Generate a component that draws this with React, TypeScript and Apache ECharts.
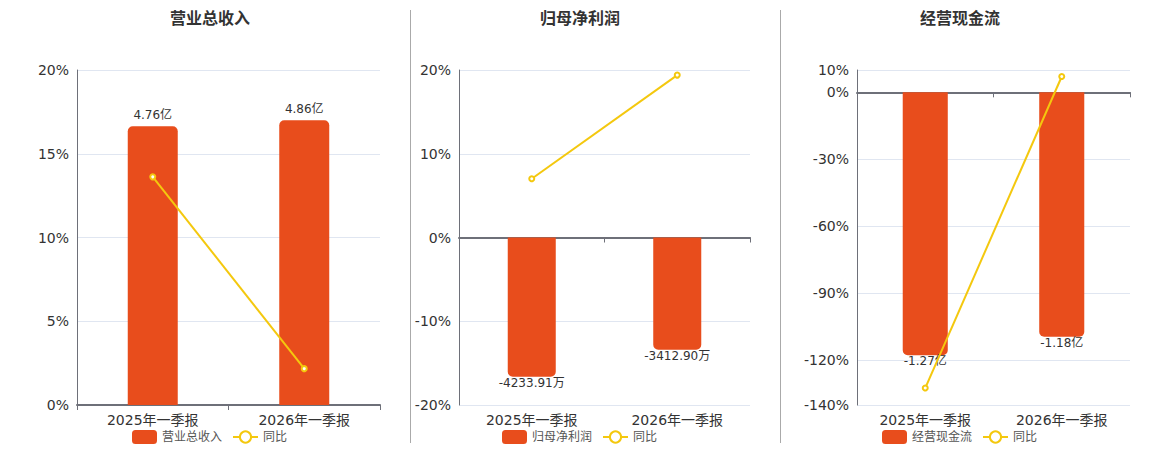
import React, { useEffect, useRef } from "react";
import * as echarts from "echarts";

const categories = ["2025年一季报", "2026年一季报"];

// 营业总收入 (亿) and 同比 (%)
const revenueValues = [4.76, 4.86];
const revenueYoY = [13.62, 2.17];

// 归母净利润 (万) and 同比 (%)
const profitValues = [-4233.91, -3412.9];
const profitYoY = [7.02, 19.39];

// 经营现金流 (亿) and 同比 (%)
const cashValues = [-1.27, -1.18];
const cashYoY = [-132.4, 7.09];

const titles = ["营业总收入", "归母净利润", "经营现金流"];
const yoyName = "同比";

const BAR_COLOR = "#E84D1C";
const LINE_COLOR = "#F4C80E";
const FONT = "'DejaVu Sans', 'Noto Sans CJK SC', sans-serif";

export default function App() {
  const ref = useRef<HTMLDivElement>(null);

  useEffect(() => {
    if (!ref.current) return;
    const chart = echarts.init(ref.current, undefined, { renderer: "svg" });

    const grids = [
      { left: 77, width: 303, top: 70, height: 335 },
      { left: 459, width: 291, top: 70, height: 335 },
      { left: 857, width: 273, top: 70, height: 335 },
    ];
    const centers = [210, 580, 960];

    const pctRanges = [
      { min: 0, max: 20 },
      { min: -20, max: 20 },
      { min: -140, max: 10 },
    ];
    const barRanges = [
      { min: 0, max: 5.72 },
      { min: -5090, max: 5090 },
      { min: -1.51, max: 0.1079 },
    ];
    const barData = [revenueValues, profitValues, cashValues];
    const lineData = [revenueYoY, profitYoY, cashYoY];
    const units = ["亿", "万", "亿"];

    const xAxis: any[] = [];
    const yAxis: any[] = [];
    const series: any[] = [];
    const legend: any[] = [];
    const title: any[] = [];

    for (let i = 0; i < 3; i++) {
      // axis line at zero with ticks
      xAxis.push({
        type: "category",
        gridIndex: i,
        data: categories,
        axisLine: { onZero: true, lineStyle: { color: "#6E7079", width: 2 } },
        axisTick: { show: true, length: 5, lineStyle: { color: "#6E7079" } },
        axisLabel: { show: false },
        splitLine: { show: false },
      });
      // label axis at bottom
      xAxis.push({
        type: "category",
        gridIndex: i,
        data: categories,
        position: "bottom",
        axisLine: { show: false, onZero: false },
        axisTick: { show: false },
        axisLabel: { color: "#333", fontSize: 14, fontFamily: FONT, margin: 8 },
        splitLine: { show: false },
      });
      yAxis.push({
        type: "value",
        gridIndex: i,
        min: pctRanges[i].min,
        max: pctRanges[i].max,
        axisLine: { show: true, lineStyle: { color: "#6E7079", width: 1 } },
        axisTick: { show: false },
        axisLabel: {
          formatter: "{value}%",
          color: "#333",
          fontSize: 14,
          fontFamily: FONT,
        },
        splitLine: { lineStyle: { color: "#E0E6F1" } },
      });
      yAxis.push({
        type: "value",
        gridIndex: i,
        show: false,
        min: barRanges[i].min,
        max: barRanges[i].max,
        splitLine: { show: false },
      });

      const unit = units[i];
      series.push({
        type: "bar",
        name: titles[i],
        xAxisIndex: i * 2,
        yAxisIndex: i * 2 + 1,
        barWidth: "33%",
        itemStyle: { color: BAR_COLOR },
        data: barData[i].map((v) => ({
          value: v,
          itemStyle: { borderRadius: v >= 0 ? [5, 5, 0, 0] : [0, 0, 5, 5] },
          label: {
            show: true,
            position: v >= 0 ? "top" : "bottom",
            distance: v >= 0 ? 5 : 0,
            color: "#333",
            fontSize: 12,
            fontFamily: FONT,
            formatter: (p: any) => Number(p.value).toFixed(2) + unit,
          },
        })),
      });
      series.push({
        type: "line",
        name: yoyName,
        xAxisIndex: i * 2,
        yAxisIndex: i * 2,
        symbol: "emptyCircle",
        symbolSize: 5,
        lineStyle: { color: LINE_COLOR, width: 2 },
        itemStyle: { color: LINE_COLOR, borderColor: LINE_COLOR },
        data: lineData[i],
        z: 5,
      });

      legend.push({
        data: [titles[i], yoyName],
        left: centers[i] - 78,
        top: 430,
        itemWidth: 25,
        itemHeight: 14,
        itemGap: 10,
        padding: 0,
        textStyle: { color: "#555", fontSize: 12, fontFamily: FONT },
      });

      title.push({
        text: titles[i],
        left: centers[i],
        textAlign: "center",
        top: 10,
        padding: 0,
        textStyle: {
          color: "#333",
          fontSize: 16,
          fontWeight: "bold",
          fontFamily: FONT,
        },
      });
    }

    chart.setOption({
      animation: false,
      backgroundColor: "#fff",
      title,
      legend,
      grid: grids.map((g) => ({ ...g, containLabel: false })),
      xAxis,
      yAxis,
      series,
      graphic: [
        {
          type: "line",
          shape: { x1: 410.5, y1: 10, x2: 410.5, y2: 443 },
          style: { stroke: "#AAAAAA", lineWidth: 1 },
        },
        {
          type: "line",
          shape: { x1: 780.5, y1: 10, x2: 780.5, y2: 443 },
          style: { stroke: "#AAAAAA", lineWidth: 1 },
        },
      ],
    });

    return () => chart.dispose();
  }, []);

  return (
    <div
      ref={ref}
      style={{ position: "fixed", left: 0, top: 0, width: 1160, height: 450 }}
    />
  );
}
